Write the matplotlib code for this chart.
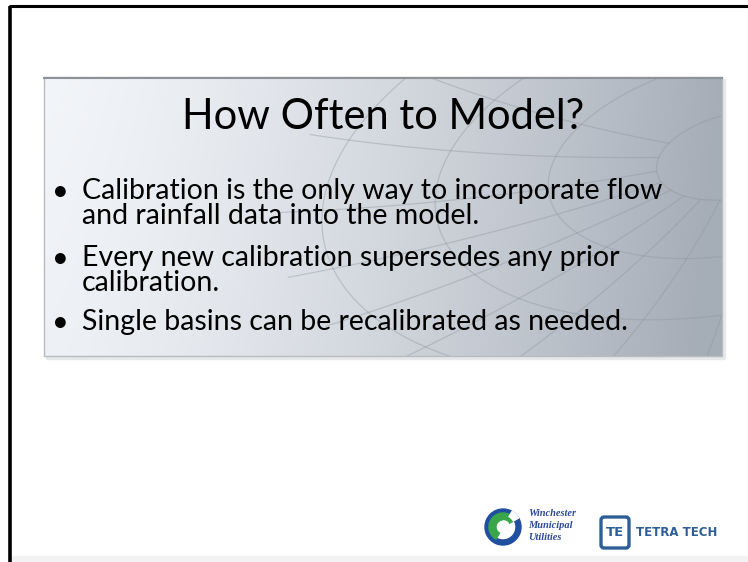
import numpy as np
import matplotlib
matplotlib.use("Agg")
import matplotlib.pyplot as plt
from matplotlib.patches import Rectangle, FancyBboxPatch, Wedge, Circle

# === SLIDE CONTENT ===
TITLE = "How Often to Model?"
BULLETS = [
    ["Calibration is the only way to incorporate flow",
     "and rainfall data into the model."],
    ["Every new calibration supersedes any prior",
     "calibration."],
    ["Single basins can be recalibrated as needed."],
]
BASELINES = [[199, 224], [266, 291], [330]]
LOGO_LINES = ["Winchester", "Municipal", "Utilities"]
LOGO_RIGHT = "TETRA TECH"

W, H = 748, 562
FONT = ["Lato", "DejaVu Sans"]

fig = plt.figure(figsize=(W / 100, H / 100), dpi=100)
ax = fig.add_axes([0, 0, 1, 1])
ax.set_xlim(0, W)
ax.set_ylim(H, 0)
ax.axis("off")

# slide border (top + left)
ax.plot([9, W], [6, 6], color="black", lw=2.2, solid_capstyle="butt")
ax.plot([10, 10], [6, H], color="black", lw=2.6, solid_capstyle="butt")

# === panel with gradient ===
px0, px1, py0, py1 = 44, 722, 77, 356
gx = np.linspace(0, 1, 300)
gy = np.linspace(0, 1, 100)
GX, GY = np.meshgrid(gx, gy)
left = np.array([0.95, 0.96, 0.975])
right = np.array([0.65, 0.68, 0.72])
t = np.clip(GX ** 1.4 + 0.06 * GY, 0, 1)[..., None]
img = left * (1 - t) + right * t
ax.imshow(img, extent=[px0, px1, py1, py0], aspect="auto", zorder=1)
ax.add_patch(Rectangle((px0, py0), px1 - px0, py1 - py0, fill=False,
                       edgecolor="#b8bcc0", lw=1, zorder=3))
ax.plot([px0, px1], [py0 + 1, py0 + 1], color="#8e9399", lw=1.5, zorder=3)
# soft shadow at the bottom / right
ax.add_patch(Rectangle((px0 + 2, py1), px1 - px0, 3, color="#e6e8ea", zorder=0.5))
ax.add_patch(Rectangle((px1, py0 + 2), 3, py1 - py0, color="#e6e8ea", zorder=0.5))

# globe lines (latitude ellipses + meridians), clipped to the panel
cx, cy, rot = 740, 155, np.radians(-12)
ratio = 0.5
radii = [85, 195, 310, 425]
line_kw = dict(color="#8d959e", lw=0.9, alpha=0.4, zorder=2)


def globe_pt(a, th):
    x, y = a * np.cos(th), a * ratio * np.sin(th)
    return (cx + x * np.cos(rot) - y * np.sin(rot),
            cy + x * np.sin(rot) + y * np.cos(rot))


clip = Rectangle((px0, py0), px1 - px0, py1 - py0, transform=ax.transData)
ts = np.linspace(0, 2 * np.pi, 400)
for a in radii:
    xs, ys = globe_pt(a, ts)
    ln, = ax.plot(xs, ys, **line_kw)
    ln.set_clip_path(clip)
for deg in [95, 110, 124, 138, 152, 166, 182, 200, 218]:
    th = np.radians(deg)
    rr = np.linspace(radii[0], 470, 60)
    xs, ys = globe_pt(rr, th + 0.00035 * (rr - radii[0]))
    ln, = ax.plot(xs, ys, **line_kw)
    ln.set_clip_path(clip)

# === text ===
ax.text(383, 129, TITLE, fontsize=30, family=FONT, ha="center", va="baseline",
        color="black", zorder=5)
for item, ys in zip(BULLETS, BASELINES):
    ax.text(60, ys[0] - 7, "\u2022", fontsize=21, family=FONT, ha="center",
            va="center", zorder=5)
    for line, yb in zip(item, ys):
        ax.text(82, yb, line, fontsize=20.5, family=FONT, ha="left", va="baseline",
                color="black", zorder=5)

# === logos ===
lx, ly = 503, 527
ax.add_patch(Wedge((lx, ly), 18, 0, 360, width=5, color="#1f4f9e", zorder=5))
ax.add_patch(Wedge((lx, ly), 14, 120, 330, width=7, color="#3aa64a", zorder=6))
ax.add_patch(Wedge((lx, ly), 18, 300, 330, width=6, color="white", zorder=6))
ax.add_patch(Circle((lx + 1, ly - 1), 5, color="white", zorder=7))
for i, s in enumerate(LOGO_LINES):
    ax.text(528, 514 + i * 11.5, s, fontsize=7.5, family="Liberation Serif",
            style="italic", weight="bold", color="#2d4a9a", va="center", zorder=5)

ax.add_patch(FancyBboxPatch((601, 517), 28, 31, boxstyle="round,pad=0,rounding_size=3",
                            fill=False, edgecolor="#2e5e96", lw=2.4, zorder=5))
ax.text(615, 533, "TE", fontsize=9.5, weight="heavy", color="#2e5e96",
        ha="center", va="center", zorder=5)
ax.text(636, 532, LOGO_RIGHT, fontsize=8.5, family="DejaVu Sans", weight="heavy",
        color="#2e5e96", ha="left", va="center", zorder=5)

# faint bottom band
ax.add_patch(Rectangle((12, 556), W, 6, color="#f2f2f2", zorder=0.5))

fig.savefig("out.png", dpi=100)
